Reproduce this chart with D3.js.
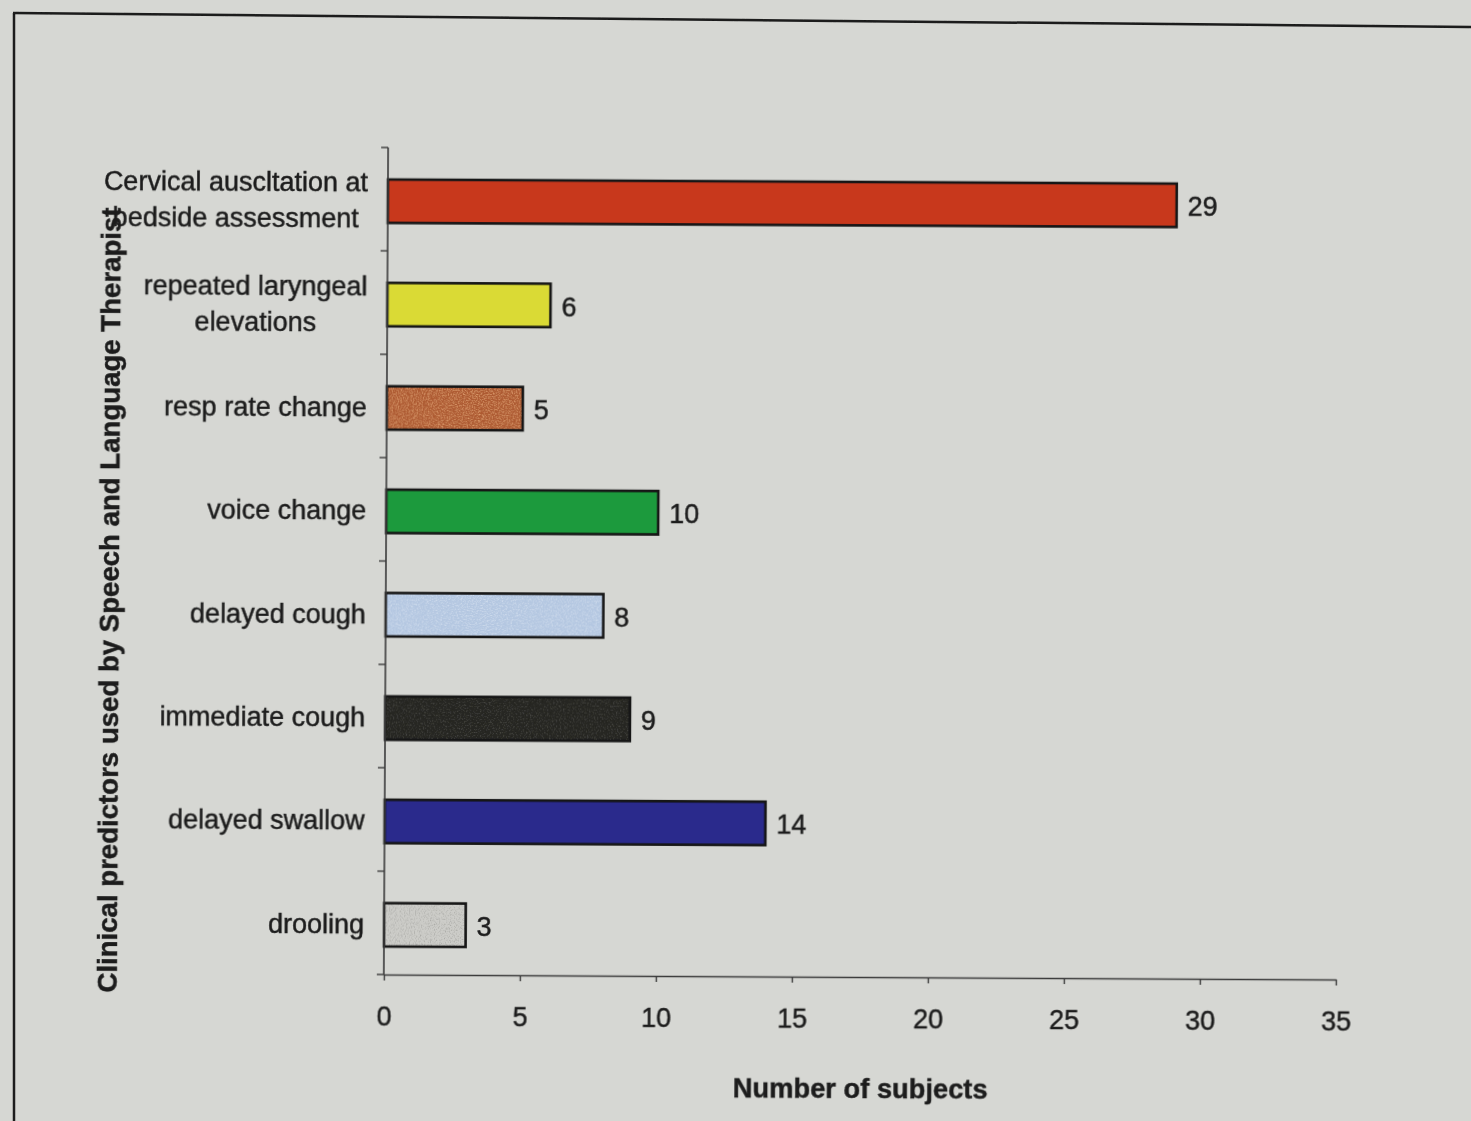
<!DOCTYPE html>
<html>
<head>
<meta charset="utf-8">
<script src="https://cdn.jsdelivr.net/npm/d3@7/dist/d3.min.js"></script>
<style>
  html, body { margin: 0; padding: 0; background: #d6d7d3; }
  svg { display: block; }
  text { font-family: "Liberation Sans", Arial, sans-serif; fill: #1c1c1c; stroke: #1c1c1c; stroke-width: 0.45px; }
</style>
</head>
<body>
<svg id="chart" width="1471" height="1121"></svg>
<script>
// Clinical predictors (top to bottom) and the number of subjects for each
const categories = [
  ["Cervical auscltation at", "bedside assessment"],
  ["repeated laryngeal", "elevations"],
  ["resp rate change"],
  ["voice change"],
  ["delayed cough"],
  ["immediate cough"],
  ["delayed swallow"],
  ["drooling"]
];
const values = [29, 6, 5, 10, 8, 9, 14, 3];
const barColors = ["#c8381f", "#dada34", "#ad5a30", "#1d9a3d", "#b4c7e1", "#252523", "#2b2b8c", "#cdcdc9"];
// Dotted fill texture per bar: null for plain fills
const barTexture = [null, null, "lightDots", null, "softDots", "sparseDots", null, "darkDots"];
const xTicks = [0, 5, 10, 15, 20, 25, 30, 35];
const xTitle = "Number of subjects";
const yTitle = "Clinical predictors used by Speech and Language Therapist";

const svg = d3.select("#chart");
const W = 1471, H = 1121;

svg.append("rect").attr("width", W).attr("height", H).attr("fill", "#d6d7d3");

const defs = svg.append("defs");

// Dot textures: thresholded noise, tinted, laid over the bar fill
function makeDots(id, color, freq, gain, bias, seed) {
  const f = defs.append("filter").attr("id", id)
    .attr("x", 0).attr("y", 0).attr("width", 1).attr("height", 1);
  f.append("feTurbulence").attr("type", "fractalNoise")
    .attr("baseFrequency", freq).attr("numOctaves", 2).attr("seed", seed).attr("result", "noise");
  f.append("feColorMatrix").attr("in", "noise").attr("type", "matrix")
    .attr("values", `0 0 0 0 0  0 0 0 0 0  0 0 0 0 0  ${gain} 0 0 0 ${bias}`).attr("result", "mask");
  f.append("feFlood").attr("flood-color", color).attr("result", "tint");
  f.append("feComposite").attr("in", "tint").attr("in2", "mask").attr("operator", "in").attr("result", "dots");
  f.append("feComposite").attr("in", "dots").attr("in2", "SourceGraphic").attr("operator", "in").attr("result", "dotsIn");
  const m = f.append("feMerge");
  m.append("feMergeNode").attr("in", "SourceGraphic");
  m.append("feMergeNode").attr("in", "dotsIn");
}
makeDots("lightDots", "#e0a070", 0.8, 2.4, -1.05, 3);
makeDots("softDots", "#e4ecf6", 0.8, 1.8, -0.85, 5);
makeDots("sparseDots", "#5a5a56", 0.7, 2.0, -1.05, 7);
makeDots("darkDots", "#8e8e8a", 0.8, 1.8, -0.85, 9);

const soft = defs.append("filter").attr("id", "soft");
soft.append("feGaussianBlur").attr("stdDeviation", 0.5);

// Page frame
const frame = svg.append("g").attr("filter", "url(#soft)");
frame.append("line").attr("x1", 14).attr("y1", 1121).attr("x2", 14).attr("y2", 13)
  .attr("stroke", "#1a1a1a").attr("stroke-width", 2.5);
frame.append("line").attr("x1", 13).attr("y1", 13).attr("x2", 1471).attr("y2", 27)
  .attr("stroke", "#1a1a1a").attr("stroke-width", 2.5);

const g = svg.append("g")
  .attr("transform", "rotate(0.3 860 560)")
  .attr("filter", "url(#soft)");

const plot = { left: 386, right: 1338, top: 150, bottom: 977 };

const x = d3.scaleLinear().domain([0, 35]).range([plot.left, plot.right]);
const y = d3.scaleBand().domain(d3.range(categories.length))
  .range([plot.top, plot.bottom]).padding(0);
const barH = y.bandwidth() * 0.42;
const barOff = 2;
const barY = i => y(i) + (y.bandwidth() - barH) / 2 + barOff;

// Bars: textured fill, then the outline on top
const bars = g.append("g");
bars.selectAll("rect.fill").data(values).join("rect").attr("class", "fill")
  .attr("x", x(0))
  .attr("y", (d, i) => barY(i))
  .attr("width", d => x(d) - x(0))
  .attr("height", barH)
  .attr("fill", (d, i) => barColors[i])
  .attr("filter", (d, i) => barTexture[i] ? `url(#${barTexture[i]})` : null);
bars.selectAll("rect.edge").data(values).join("rect").attr("class", "edge")
  .attr("x", x(0))
  .attr("y", (d, i) => barY(i))
  .attr("width", d => x(d) - x(0))
  .attr("height", barH)
  .attr("fill", "none")
  .attr("stroke", "#141414")
  .attr("stroke-width", 2.6);

// Value labels at bar ends
g.append("g").selectAll("text").data(values).join("text")
  .attr("x", d => x(d) + 11)
  .attr("y", (d, i) => barY(i) + barH / 2 + 1)
  .attr("dy", "0.35em")
  .attr("font-size", 27)
  .text(d => d);

// X axis
const xAxis = d3.axisBottom(x).tickValues(xTicks).tickSize(6).tickPadding(26).tickSizeOuter(0);
const gx = g.append("g").attr("transform", `translate(0,${plot.bottom})`).call(xAxis);
gx.select(".domain").attr("stroke", "#3a3a3a").attr("stroke-width", 1.6);
gx.selectAll(".tick line").attr("stroke", "#3a3a3a").attr("stroke-width", 1.4);
gx.selectAll(".tick text").attr("font-size", 27).attr("fill", "#1c1c1c")
  .attr("font-family", "Liberation Sans, Arial, sans-serif");

// Y axis: ticks sit on the category boundaries
const yAxisLine = g.append("g");
yAxisLine.append("line")
  .attr("x1", plot.left).attr("x2", plot.left)
  .attr("y1", plot.top).attr("y2", plot.bottom)
  .attr("stroke", "#3a3a3a").attr("stroke-width", 1.6);
const boundaries = d3.range(categories.length + 1).map(i => i < categories.length ? y(i) : plot.bottom);
yAxisLine.selectAll("line.tk").data(boundaries).join("line").attr("class", "tk")
  .attr("x1", plot.left - 7).attr("x2", plot.left)
  .attr("y1", d => d).attr("y2", d => d)
  .attr("stroke", "#3a3a3a").attr("stroke-width", 1.4);

// Category labels, right-aligned block, multi-line labels centred
const labelRight = 366;
const lineGap = 36;
const labels = g.append("g");
categories.forEach((lines, i) => {
  const cy = y(i) + y.bandwidth() / 2 + 1;
  const t = labels.append("text").attr("font-size", 27);
  lines.forEach((ln, k) => {
    t.append("tspan")
      .attr("y", cy + (k - (lines.length - 1) / 2) * lineGap)
      .attr("dy", "0.35em")
      .text(ln);
  });
  if (lines.length === 1) {
    t.attr("text-anchor", "end").selectAll("tspan").attr("x", labelRight);
  } else {
    const widths = [];
    t.selectAll("tspan").each(function () { widths.push(this.getComputedTextLength()); });
    const maxW = d3.max(widths);
    t.attr("text-anchor", "middle").selectAll("tspan").attr("x", labelRight - maxW / 2);
  }
});

// Axis titles
g.append("text")
  .attr("x", 863)
  .attr("y", 1088)
  .attr("dy", "0.35em")
  .attr("text-anchor", "middle")
  .attr("font-size", 27.3)
  .attr("font-weight", "bold")
  .text(xTitle);

g.append("text")
  .attr("transform", "translate(109,604) rotate(-90)")
  .attr("text-anchor", "middle")
  .attr("dy", "0.35em")
  .attr("font-size", 27.6)
  .attr("font-weight", "bold")
  .text(yTitle);
</script>
</body>
</html>
